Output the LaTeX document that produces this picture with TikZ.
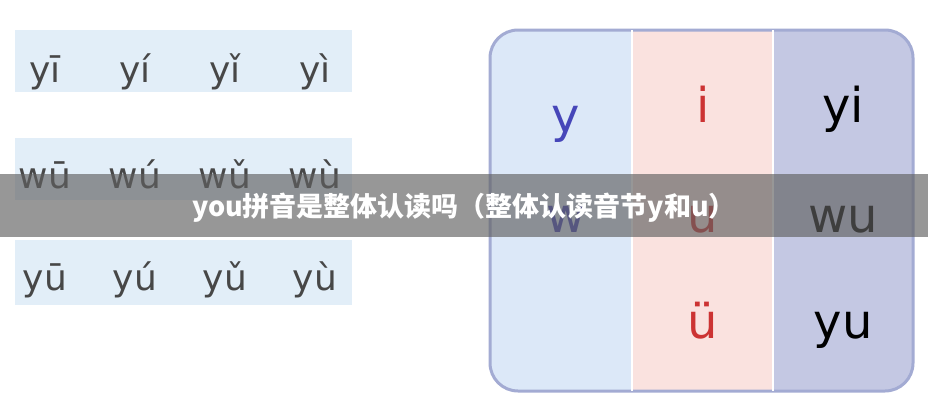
\documentclass[tikz,border=0pt]{standalone}
\usepackage{fontspec}
\setmainfont{DejaVu Sans}
\newfontfamily\cjk{Noto Sans CJK SC}
\definecolor{bandc}{HTML}{E2EEF8}
\definecolor{c1}{HTML}{DCE8F8}
\definecolor{c2}{HTML}{FAE2DF}
\definecolor{c3}{HTML}{C4C8E3}
\definecolor{bord}{HTML}{A3ABD3}
\begin{document}
\begin{tikzpicture}[x=1pt,y=-1pt,
  band/.style={fill=bandc},
  py/.style={font=\fontsize{36}{36}\selectfont, text=black!72, anchor=base},
  big/.style={font=\fontsize{48}{48}\selectfont, anchor=base}]
\useasboundingbox (0,0) rectangle (928,413);
\fill[white] (0,0) rectangle (928,413);
% left bands
\fill[band] (15,30) rectangle (352,92);
\fill[band] (15,138) rectangle (352,200);
\fill[band] (15,240) rectangle (352,305);
\foreach \t [count=\i] in {yī,yí,yǐ,yì} \node[py] (a\i) at (-45+\i*90,82) {\t};
\foreach \t [count=\i] in {wū,wú,wǔ,wù} \node[py] (b\i) at (-45+\i*90,188) {\t};
\foreach \t [count=\i] in {yū,yú,yǔ,yù} \node[py] (c\i) at (-45+\i*90,290) {\t};
% right box
\begin{scope}
\clip[rounded corners=28] (490,30) rectangle (913,391);
\fill[c1] (490,30) rectangle (632,391);
\fill[c2] (632,30) rectangle (773,391);
\fill[c3] (773,30) rectangle (913,391);
\end{scope}
\draw[line width=3pt, color=bord, rounded corners=28] (490,30) rectangle (913,391);
\draw[white, line width=1.5pt] (632,30) -- (632,391) (773,30) -- (773,391);
\node[big, text=blue!45!gray] (y) at (566,132) {y};
\node[big, text=blue!45!gray] (w) at (566,232) {w};
\node[big, text=red!60!gray] (i) at (703,122) {i};
\node[big, text=red!60!gray] (u) at (703,232) {u};
\node[big, text=red!60!gray] (uu) at (703,338) {ü};
\node[big, text=black] (yi) at (843,122) {yi};
\node[big, text=black] (wu) at (843,232) {wu};
\node[big, text=black] (yu) at (843,338) {yu};
% banner
\fill[gray!75!black, opacity=0.65] (0,174) rectangle (928,237);
\node[text=white, font=\cjk\bfseries\fontsize{27}{27}\selectfont] (t) at (464,208) {you拼音是整体认读吗（整体认读音节y和u）};
\end{tikzpicture}
\end{document}
